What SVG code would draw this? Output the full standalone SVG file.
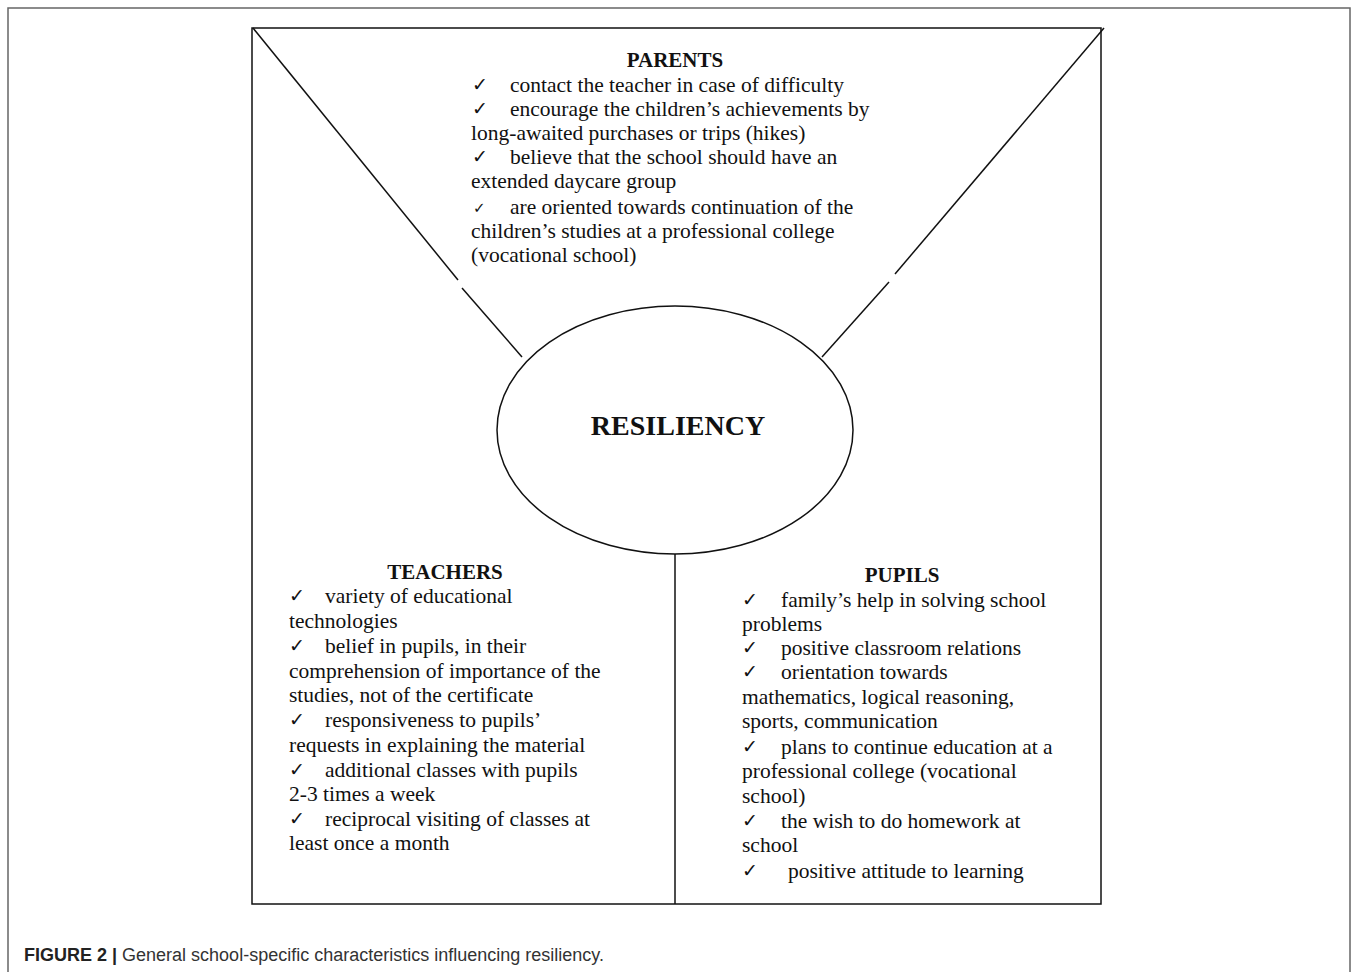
<svg xmlns="http://www.w3.org/2000/svg" width="1358" height="972" viewBox="0 0 1358 972">
<style>
.t{font-family:"Liberation Serif","Times New Roman",serif;font-size:21.5px;fill:#111}
.h{font-family:"Liberation Serif","Times New Roman",serif;font-size:21px;font-weight:bold;fill:#111;text-anchor:middle}
.ck{font-family:"DejaVu Sans",sans-serif;font-size:19px;fill:#111}
.ln{stroke:#111;stroke-width:1.5;fill:none}
.cap{font-family:"Liberation Sans",Arial,sans-serif;font-size:18px;fill:#333}
</style>
<rect width="1358" height="972" fill="#fff"/>
<rect x="8" y="8" width="1342" height="980" fill="none" stroke="#666" stroke-width="1.5"/>
<g id="frame">
<rect x="252" y="28" width="849" height="876" class="ln"/>
</g>
<g id="connectors">
<line x1="253" y1="28" x2="458" y2="280" class="ln"/>
<line x1="462" y1="288" x2="522" y2="357" class="ln"/>
<line x1="1104" y1="28" x2="895" y2="274" class="ln"/>
<line x1="889" y1="282" x2="822" y2="357" class="ln"/>
<line x1="675" y1="554" x2="675" y2="904" class="ln"/>
</g>
<g id="resiliency">
<ellipse cx="675" cy="430" rx="178" ry="124" class="ln"/>
<text x="678" y="435" class="h" style="font-size:28px">RESILIENCY</text>
</g>
<g id="parents">
<text x="675" y="67" class="h">PARENTS</text>
<text x="472" y="91" class="ck">✓</text><text x="510" y="92" class="t">contact the teacher in case of difficulty</text>
<text x="472" y="115" class="ck">✓</text><text x="510" y="116" class="t">encourage the children’s achievements by</text>
<text x="471" y="140" class="t">long-awaited purchases or trips (hikes)</text>
<text x="472" y="163" class="ck">✓</text><text x="510" y="164" class="t">believe that the school should have an</text>
<text x="471" y="188" class="t">extended daycare group</text>
<text x="473" y="213" class="ck" style="font-size:15px">✓</text><text x="510" y="214" class="t">are oriented towards continuation of the</text>
<text x="471" y="238" class="t">children’s studies at a professional college</text>
<text x="471" y="262" class="t">(vocational school)</text>
</g>
<g id="teachers">
<text x="445" y="579" class="h">TEACHERS</text>
<text x="289" y="602" class="ck">✓</text><text x="325" y="603" class="t">variety of educational</text>
<text x="289" y="628" class="t">technologies</text>
<text x="289" y="652" class="ck">✓</text><text x="325" y="653" class="t">belief in pupils, in their</text>
<text x="289" y="678" class="t">comprehension of importance of the</text>
<text x="289" y="702" class="t">studies, not of the certificate</text>
<text x="289" y="726" class="ck">✓</text><text x="325" y="727" class="t">responsiveness to pupils’</text>
<text x="289" y="752" class="t">requests in explaining the material</text>
<text x="289" y="776" class="ck">✓</text><text x="325" y="777" class="t">additional classes with pupils</text>
<text x="289" y="801" class="t">2-3 times a week</text>
<text x="289" y="825" class="ck">✓</text><text x="325" y="826" class="t">reciprocal visiting of classes at</text>
<text x="289" y="850" class="t">least once a month</text>
</g>
<g id="pupils">
<text x="902" y="582" class="h">PUPILS</text>
<text x="742" y="606" class="ck">✓</text><text x="781" y="607" class="t">family’s help in solving school</text>
<text x="742" y="631" class="t">problems</text>
<text x="742" y="654" class="ck">✓</text><text x="781" y="655" class="t">positive classroom relations</text>
<text x="742" y="678" class="ck">✓</text><text x="781" y="679" class="t">orientation towards</text>
<text x="742" y="704" class="t">mathematics, logical reasoning,</text>
<text x="742" y="728" class="t">sports, communication</text>
<text x="742" y="753" class="ck">✓</text><text x="781" y="754" class="t">plans to continue education at a</text>
<text x="742" y="778" class="t">professional college (vocational</text>
<text x="742" y="803" class="t">school)</text>
<text x="742" y="827" class="ck">✓</text><text x="781" y="828" class="t">the wish to do homework at</text>
<text x="742" y="852" class="t">school</text>
<text x="742" y="877" class="ck">✓</text><text x="788" y="878" class="t">positive attitude to learning</text>
</g>
<g id="caption">
<text x="24" y="961" class="cap"><tspan font-weight="bold" fill="#222">FIGURE 2 |</tspan> General school-specific characteristics influencing resiliency.</text>
</g>
</svg>
